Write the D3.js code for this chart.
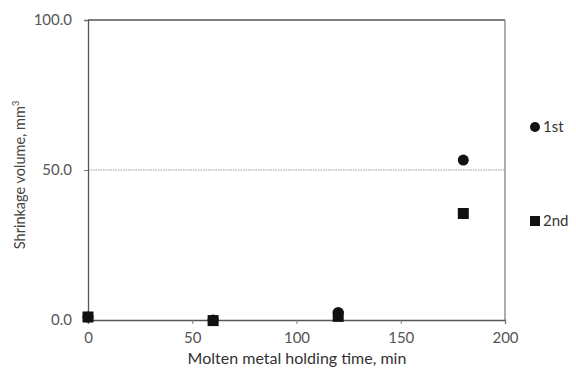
<!DOCTYPE html>
<html><head><meta charset="utf-8">
<script src="https://cdn.jsdelivr.net/npm/d3@7"></script>
<style>body{margin:0;background:#fff;} text{font-family:Lato,"Open Sans",sans-serif;}</style>
</head><body><svg id="c" width="576" height="373"></svg>
<script>
const times = [0, 60, 120, 180];
const first = [1.0, 0.0, 2.5, 53.3];
const second = [1.0, -0.2, 1.2, 35.5];
const xTicks = [0, 50, 100, 150, 200];
const yTicks = [0, 50, 100];
const seriesNames = ["1st", "2nd"];

const svg = d3.select("#c");
const L = 88, R = 505, T = 20, B = 320;
const x = d3.scaleLinear().domain([0, 200]).range([L, R]);
const y = d3.scaleLinear().domain([0, 100]).range([B, T]);

// gridline at 50
svg.append("g").selectAll("line").data(yTicks.filter(d => d > 0 && d < 100)).join("line")
  .attr("x1", L).attr("x2", R).attr("y1", d => y(d)).attr("y2", d => y(d))
  .attr("stroke", "#9a9a9a").attr("stroke-width", 1).attr("stroke-dasharray", "1.5,1");

// border top & right
svg.append("line").attr("x1", L).attr("x2", R).attr("y1", T).attr("y2", T).attr("stroke", "#555").attr("stroke-width", 1.3);
svg.append("line").attr("x1", R).attr("x2", R).attr("y1", T).attr("y2", B).attr("stroke", "#777").attr("stroke-width", 1.2);

const xAxis = svg.append("g").attr("transform", `translate(0,${B})`)
  .call(d3.axisBottom(x).tickValues(xTicks).tickSize(4).tickPadding(8).tickFormat(d3.format("d")));
const yAxis = svg.append("g").attr("transform", `translate(${L},0)`)
  .call(d3.axisLeft(y).tickValues(yTicks).tickSize(4).tickPadding(12).tickFormat(d3.format(".1f")));
[xAxis, yAxis].forEach(g => {
  g.select(".domain").attr("stroke", "#555").attr("stroke-width", 1.3);
  g.selectAll(".tick line").attr("stroke", "#777");
  g.selectAll(".tick text").attr("fill", "#555").attr("font-size", 15);
});

// markers: 1st circles, 2nd squares
svg.append("g").selectAll("circle").data(times.map((t, i) => [t, first[i]])).join("circle")
  .attr("cx", d => x(d[0])).attr("cy", d => y(d[1])).attr("r", 5.5).attr("fill", "#111");
const s = 11;
svg.append("g").selectAll("rect").data(times.map((t, i) => [t, second[i]])).join("rect")
  .attr("x", d => x(d[0]) - s / 2).attr("y", d => y(d[1]) - s / 2).attr("width", s).attr("height", s).attr("fill", "#111");

// legend
const lg = svg.append("g");
lg.append("circle").attr("cx", 535).attr("cy", 127).attr("r", 5).attr("fill", "#111");
lg.append("rect").attr("x", 530).attr("y", 216).attr("width", 10).attr("height", 10).attr("fill", "#111");
lg.append("text").attr("x", 543).attr("y", 132).attr("font-size", 15).attr("fill", "#333").text(seriesNames[0]);
lg.append("text").attr("x", 543).attr("y", 226).attr("font-size", 15).attr("fill", "#333").text(seriesNames[1]);

// axis titles
svg.append("text").attr("x", 297).attr("y", 364).attr("text-anchor", "middle")
  .attr("font-size", 16).attr("fill", "#333").text("Molten metal holding time, min");
const yt = svg.append("text").attr("transform", `translate(25,${175}) rotate(-90)`)
  .attr("text-anchor", "middle").attr("font-size", 14.5).attr("fill", "#444");
yt.append("tspan").text("Shrinkage volume, mm");
yt.append("tspan").attr("font-size", 9).attr("dy", -6).text("3");
</script></body></html>
